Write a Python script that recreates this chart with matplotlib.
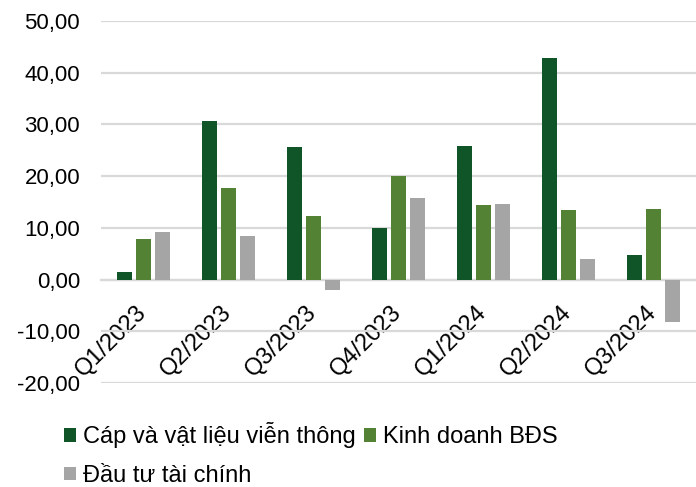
import matplotlib
matplotlib.use('Agg')
import matplotlib.pyplot as plt
import numpy as np
from matplotlib.ticker import FuncFormatter

plt.rcParams['font.family'] = ['Liberation Sans', 'DejaVu Sans']
plt.rcParams['font.size'] = 16

# data
quarters = ['Q1/2023', 'Q2/2023', 'Q3/2023', 'Q4/2023', 'Q1/2024', 'Q2/2024', 'Q3/2024']
cap_vien_thong = [1.5, 30.6, 25.7, 10.0, 25.9, 42.9, 4.7]
kinh_doanh_bds = [7.8, 17.7, 12.3, 20.0, 14.5, 13.4, 13.6]
dau_tu_tai_chinh = [9.1, 8.5, -2.0, 15.7, 14.7, 3.9, -8.2]

labels = ['Cáp và vật liệu viễn thông', 'Kinh doanh BĐS', 'Đầu tư tài chính']
colors = ['#0F5528', '#548235', '#A5A5A5']

fig = plt.figure(figsize=(6.96, 4.87), dpi=100)
ax = fig.add_axes([0.145, 0.2136, 0.855, 0.7433])

x = np.arange(len(quarters))
width = 0.176
step = 0.2235

bars = []
for i, (vals, lab, col) in enumerate(zip([cap_vien_thong, kinh_doanh_bds, dau_tu_tai_chinh], labels, colors)):
    bars.append(ax.bar(x + (i - 1) * step, vals, width, color=col, label=lab, zorder=3))

ax.set_xlim(-0.5, len(quarters) - 0.5)
ax.set_ylim(-20, 50)
ax.set_yticks(np.arange(-20, 51, 10))
ax.yaxis.set_major_formatter(FuncFormatter(lambda v, p: '{:.2f}'.format(v).replace('.', ',')))
ax.grid(axis='y', color='#D9D9D9', linewidth=1.6, zorder=0)
for s in ['top', 'left', 'right']:
    ax.spines[s].set_visible(False)
# trục danh mục cắt tại 0
ax.spines['bottom'].set_position(('data', 0))
ax.spines['bottom'].set_color('#D9D9D9')
ax.spines['bottom'].set_linewidth(1.6)
ax.tick_params(axis='both', length=0)
ax.tick_params(axis='y', pad=15)

ax.set_xticks(x)
ax.set_xticklabels(quarters, rotation=45, ha='right', va='center', rotation_mode='anchor', fontsize=17)
ax.tick_params(axis='x', pad=21)

# thứ tự để hàng 1: Cáp, Kinh doanh; hàng 2: Đầu tư
order = [0, 2, 1]
fig.legend([bars[k] for k in order], [labels[k] for k in order],
           loc='upper left', bbox_to_anchor=(0.092, 0.133), ncol=2, frameon=False,
           fontsize=17, handlelength=0.52, handleheight=0.52, handletextpad=0.27,
           columnspacing=0.36, labelspacing=0.7, borderpad=0, borderaxespad=0)

fig.savefig('out.png', dpi=100)
